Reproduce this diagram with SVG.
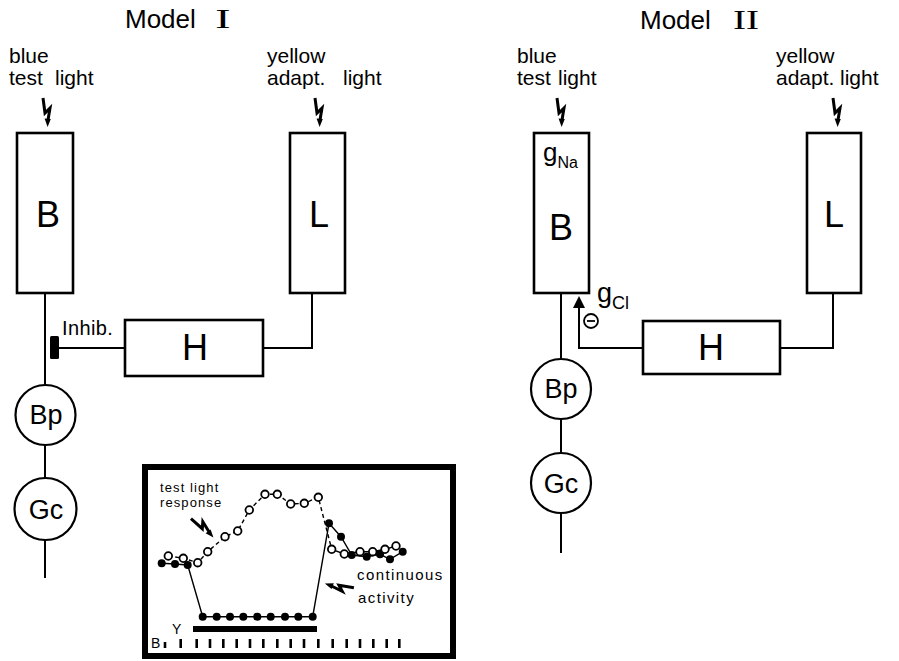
<svg xmlns="http://www.w3.org/2000/svg" xmlns:xlink="http://www.w3.org/1999/xlink" width="899" height="661" viewBox="0 0 899 661">
<style>
.t{font-family:"Liberation Sans",Arial,Helvetica,sans-serif;fill:#000}
.ser{font-family:"Liberation Serif","Times New Roman",serif;fill:#000}
.lab{font-size:21px}
.big{font-size:36px}
.cir{font-size:27px}
.box{fill:#fff;stroke:#000;stroke-width:2.6}
.node{fill:#fff;stroke:#000;stroke-width:2.2}
.ln{fill:none;stroke:#000;stroke-width:2}
.tl{fill:none;stroke:#000;stroke-width:1.4}
.dash{fill:none;stroke:#000;stroke-width:1.4;stroke-dasharray:4 3}
.oc{fill:#fff;stroke:#000;stroke-width:1.8}
.fc{fill:#000}
.small{font-size:13px;letter-spacing:1.1px}
.mid{font-size:15px;letter-spacing:1.4px}
</style>
<defs>
<g id="bolt">
<path d="M-4,-29 L-2,-14 L3,-19 L1,-7" fill="none" stroke="#000" stroke-width="3" stroke-linejoin="miter"/>
<path d="M-2.4,-8.5 L3.8,-8 L0.6,0 Z" fill="#000"/>
</g>
</defs>
<rect width="899" height="661" fill="#fff"/>

<!-- titles -->
<text class="t" x="125" y="28" font-size="26">Model</text>
<text class="ser" font-size="27" text-anchor="middle" transform="translate(223,28) scale(1.7,1)">I</text>
<text class="t" x="640" y="29" font-size="26">Model</text>
<text class="ser" font-size="27" text-anchor="middle" transform="translate(746,29) scale(1.45,1)">II</text>

<!-- light labels -->
<text class="t lab" x="9" y="63">blue</text>
<text class="t lab" x="9" y="85">test<tspan x="55">light</tspan></text>
<text class="t lab" x="267" y="63">yellow</text>
<text class="t lab" x="267" y="85">adapt.<tspan x="343">light</tspan></text>
<text class="t lab" x="517" y="63">blue</text>
<text class="t lab" x="517" y="85">test<tspan x="558">light</tspan></text>
<text class="t lab" x="776" y="63">yellow</text>
<text class="t lab" x="776" y="85">adapt.<tspan x="840">light</tspan></text>

<!-- bolts -->
<use xlink:href="#bolt" href="#bolt" transform="translate(47,127)"/>
<use xlink:href="#bolt" href="#bolt" transform="translate(319,127)"/>
<use xlink:href="#bolt" href="#bolt" transform="translate(561,127)"/>
<use xlink:href="#bolt" href="#bolt" transform="translate(837,127)"/>

<!-- connectors -->
<g id="connectors">
<path class="ln" d="M45,293 V385 M45,445 V478 M45,540 V578"/>
<path class="ln" d="M312,293 V348 H263"/>
<path class="ln" d="M59,348 H125"/>
<rect x="50" y="336" width="9" height="23" rx="1.5" fill="#000"/>
<path class="ln" d="M561,293 V359 M561,419 V453 M561,513 V553"/>
<path class="ln" d="M833,293 V348 H780"/>
<path class="ln" d="M643,348 H579 V307"/>
<polygon points="579,296 573,308 585,308" fill="#000"/>
</g>

<!-- Model I nodes -->
<g id="m1-B"><rect class="box" x="17" y="133" width="56" height="160"/><text class="t big" x="36" y="227">B</text></g>
<g id="m1-L"><rect class="box" x="290" y="133" width="55" height="160"/><text class="t big" x="309" y="227">L</text></g>
<g id="m1-H"><rect class="box" x="125" y="320" width="138" height="56"/><text class="t big" x="195" y="360" text-anchor="middle">H</text></g>
<text class="t" x="62" y="335" font-size="20" letter-spacing="0.4">Inhib.</text>
<g id="m1-Bp"><circle class="node" cx="45.5" cy="415" r="30"/><text class="t cir" x="46" y="424" text-anchor="middle">Bp</text></g>
<g id="m1-Gc"><circle class="node" cx="45.5" cy="509" r="31"/><text class="t cir" x="46" y="519" text-anchor="middle">Gc</text></g>

<!-- Model II nodes -->
<g id="m2-B"><rect class="box" x="534" y="133" width="55" height="160"/>
<text class="t" x="543" y="161" font-size="26">g<tspan font-size="16" dy="7">Na</tspan></text>
<text class="t big" x="549" y="240">B</text></g>
<g id="m2-L"><rect class="box" x="807" y="133" width="54" height="160"/><text class="t big" x="824" y="227">L</text></g>
<g id="m2-H"><rect class="box" x="643" y="321" width="137" height="53"/><text class="t big" x="711" y="360" text-anchor="middle">H</text></g>
<text class="t" x="597" y="302" font-size="27">g<tspan font-size="18" dy="7">Cl</tspan></text>
<g id="minus"><circle cx="591" cy="321" r="7" fill="#fff" stroke="#000" stroke-width="1.8"/><line x1="587" y1="321" x2="595" y2="321" stroke="#000" stroke-width="1.8"/></g>
<g id="m2-Bp"><circle class="node" cx="561" cy="389" r="30"/><text class="t cir" x="561" y="398" text-anchor="middle">Bp</text></g>
<g id="m2-Gc"><circle class="node" cx="561" cy="483" r="30"/><text class="t cir" x="561" y="493" text-anchor="middle">Gc</text></g>

<!-- inset -->
<g id="inset">
<rect x="145" y="467" width="308" height="189" fill="#fff" stroke="#000" stroke-width="6"/>
<text class="t small" x="160" y="492">test light</text>
<text class="t small" x="160" y="507">response</text>
<use xlink:href="#bolt" href="#bolt" transform="translate(213,538) rotate(-41)"/>
<text class="t mid" x="357" y="580">continuous</text>
<text class="t mid" x="358" y="603">activity</text>
<use xlink:href="#bolt" href="#bolt" transform="translate(325,583) rotate(107)"/>
<polyline class="tl" points="161.7,563.3 175,564 187.7,565 202.7,616.7 216.7,616.7 230,616.7 243.3,616.7 257.3,616.7 270.7,616.7 285,616.7 298.3,616.7 312.7,616.7 329,523.3 341,536.7 351.7,555 366.7,556.7 380,554.3 390,559.3 402.7,551.7"/>
<polyline class="dash" points="168.3,556 183.3,558.3 197.7,562.7 207.7,551.7 225,536.7 237.7,531 249.3,510 265,494.3 277.3,494.3 290.7,504 304.3,503.3 318.3,497.3 331.7,549.3"/>
<polyline class="tl" points="331.7,549.3 344.3,554 360,551.7 372.7,551.7 385,549.3 396,546"/>
<g class="fc">
<circle cx="161.7" cy="563.3" r="4"/><circle cx="175" cy="564" r="4"/><circle cx="187.7" cy="565" r="4"/>
<circle cx="202.7" cy="616.7" r="4"/><circle cx="216.7" cy="616.7" r="4"/><circle cx="230" cy="616.7" r="4"/><circle cx="243.3" cy="616.7" r="4"/><circle cx="257.3" cy="616.7" r="4"/><circle cx="270.7" cy="616.7" r="4"/><circle cx="285" cy="616.7" r="4"/><circle cx="298.3" cy="616.7" r="4"/><circle cx="312.7" cy="616.7" r="4"/>
<circle cx="329" cy="523.3" r="4"/><circle cx="341" cy="536.7" r="4"/><circle cx="351.7" cy="555" r="4"/><circle cx="366.7" cy="556.7" r="4"/><circle cx="380" cy="554.3" r="4"/><circle cx="390" cy="559.3" r="4"/><circle cx="402.7" cy="551.7" r="4"/>
</g>
<g class="oc">
<circle cx="168.3" cy="556" r="3.8"/><circle cx="183.3" cy="558.3" r="3.8"/><circle cx="197.7" cy="562.7" r="3.8"/><circle cx="207.7" cy="551.7" r="3.8"/><circle cx="225" cy="536.7" r="3.8"/><circle cx="237.7" cy="531" r="3.8"/><circle cx="249.3" cy="510" r="3.8"/><circle cx="265" cy="494.3" r="3.8"/><circle cx="277.3" cy="494.3" r="3.8"/><circle cx="290.7" cy="504" r="3.8"/><circle cx="304.3" cy="503.3" r="3.8"/><circle cx="318.3" cy="497.3" r="3.8"/>
<circle cx="331.7" cy="549.3" r="3.8"/><circle cx="344.3" cy="554" r="3.8"/><circle cx="360" cy="551.7" r="3.8"/><circle cx="372.7" cy="551.7" r="3.8"/><circle cx="385" cy="549.3" r="3.8"/><circle cx="396" cy="546" r="3.8"/>
</g>
<rect x="193" y="626" width="124" height="6" fill="#000"/>
<text class="t" x="172" y="634" font-size="14">Y</text>
<text class="t" x="151" y="648" font-size="14">B</text>
<path fill="none" stroke="#000" stroke-width="2.6" d="M165,642 V648 M180.7,639 V648 M196.7,639 V648 M210,639 V648 M223.3,639 V648 M236.7,639 V648 M250,639 V648 M263.3,639 V648 M277.3,639 V648 M290.7,639 V648 M304,639 V648 M318.3,639 V648 M332.7,639 V648 M346.7,639 V648 M360,639 V648 M373.3,639 V648 M386.7,639 V648 M399.3,639 V648"/>
</g>
</svg>
